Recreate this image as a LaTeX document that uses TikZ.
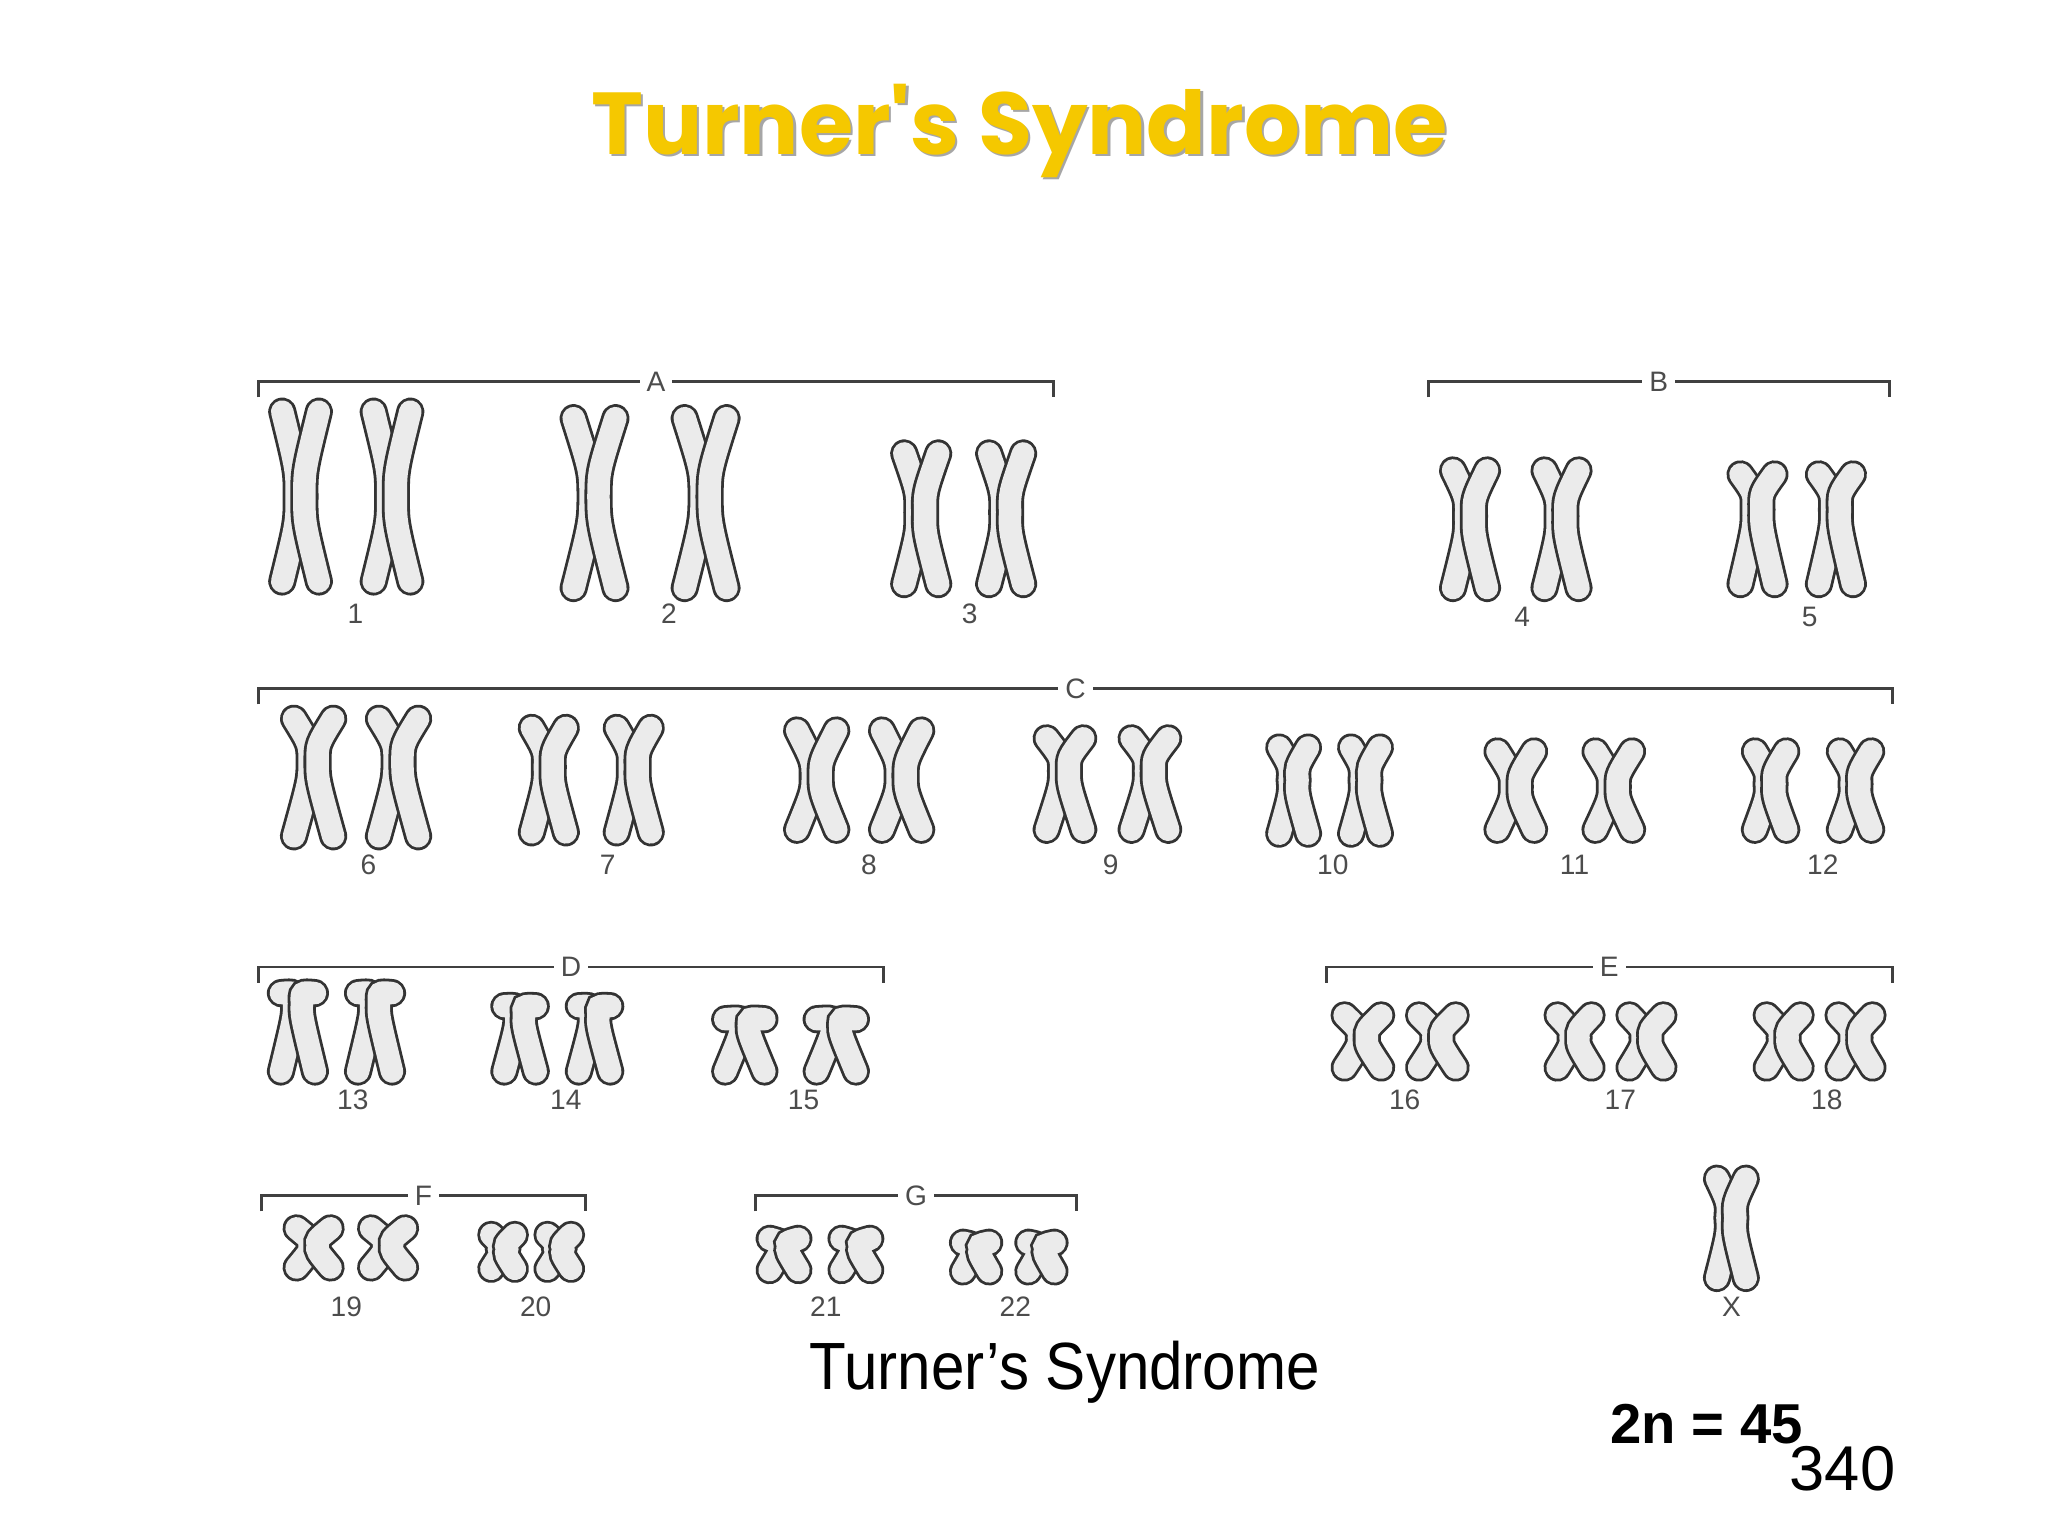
\documentclass[tikz,border=0pt]{standalone}
\usepackage{fontspec}
\setmainfont{Liberation Sans}
\newfontfamily\titlefont{Poppins}
\begin{document}
\begin{tikzpicture}[x=0.013067cm,y=-0.013067cm,
 chout/.style={line width=8pt,black!80,line cap=round},
 chin/.style={line width=6.4pt,black!8,line cap=round},
 brk/.style={black!75,line width=0.8pt},
 blab/.style={fill=white,inner sep=2pt,font=\fontsize{8}{9}\selectfont,text=black!70},
 num/.style={font=\fontsize{8}{9}\selectfont,text=black!70}]
\useasboundingbox (0,0) rectangle (1567.3,1175.5);
\newcommand\chrom[5]{% x y halfheight centromere-offset spread
 \foreach \s in {-1,1}{
  \draw[chout] (#1+\s*#5,#2-#3) .. controls (#1+\s*#5*0.2,#2+#4-#3*0.3) .. (#1+\s*3,#2+#4) .. controls (#1+\s*#5*0.2,#2+#4+#3*0.3) .. (#1+\s*#5,#2+#3);
  \draw[chin] (#1+\s*#5,#2-#3) .. controls (#1+\s*#5*0.2,#2+#4-#3*0.3) .. (#1+\s*3,#2+#4) .. controls (#1+\s*#5*0.2,#2+#4+#3*0.3) .. (#1+\s*#5,#2+#3);
 }}
\newcommand\pair[6]{% x1 x2 y h c w
 \chrom{#1}{#3}{#4}{#5}{#6}\chrom{#2}{#3}{#4}{#5}{#6}}
% title
\node[text=black!35,font=\titlefont\bfseries\fontsize{25}{30}\selectfont] at (782,102) {Turner's Syndrome};
\node (title) [text={rgb,255:red,245;green,200;blue,0},font=\titlefont\bfseries\fontsize{25}{30}\selectfont] at (780,100) {Turner's Syndrome};
% brackets
\foreach \n/\a/\b/\y/\t in {bA/198/806/292/A, bB/1093/1446/292/B, bC/198/1448/527/C, bD/198/676/740/D, bE/1015/1448/740/E, bF/200/448/915/F, bG/578/824/915/G}{
 \draw[brk] (\a,\y+12) -- (\a,\y) -- (\b,\y) node[midway,blab] (\n) {\t} -- (\b,\y+12);
}
% chromosomes
\pair{230}{300}{380}{65}{0}{14}
\pair{455}{540}{385}{65}{-5}{16}
\pair{705}{770}{397}{50}{-5}{13}
\pair{1125}{1195}{405}{45}{-10}{13}
\pair{1345}{1405}{405}{42}{-15}{13}
\pair{240}{305}{595}{45}{-12}{15}
\pair{420}{485}{597}{40}{-10}{13}
\pair{625}{690}{597}{38}{-3}{15}
\pair{815}{880}{600}{35}{-10}{14}
\pair{990}{1045}{605}{33}{-8}{11}
\pair{1160}{1235}{605}{30}{-3}{14}
\pair{1355}{1420}{605}{30}{-5}{12}
\pair{228}{287}{790}{30}{-22}{13}
\pair{398}{455}{795}{25}{-18}{12}
\pair{570}{640}{800}{20}{-15}{15}
\pair{1043}{1100}{797}{20}{-3}{14}
\pair{1205}{1260}{797}{20}{-3}{13}
\pair{1365}{1420}{797}{20}{-3}{13}
\pair{240}{297}{955}{15}{-2}{13}
\pair{385}{428}{958}{13}{-2}{9}
\pair{600}{655}{960}{12}{-6}{11}
\pair{747}{797}{962}{11}{-6}{10}
\chrom{1325}{940}{38}{-8}{11}
% numbers
\foreach \i/\x/\y in {1/272/470,2/512/470,3/742/470,4/1165/472,5/1385/472,6/282/662,7/465/662,8/665/662,9/850/662,10/1020/662,11/1205/662,12/1395/662,13/270/842,14/433/842,15/615/842,16/1075/842,17/1240/842,18/1398/842,19/265/1000,20/410/1000,21/632/1000,22/777/1000,X/1325/1000}
 \node[num] (n\i) at (\x,\y) {\i};
\node (cap) [font=\fontsize{19}{22}\selectfont,xscale=0.9] at (815,1050) {Turner's Syndrome};
\node (chr) [font=\bfseries\fontsize{16}{19}\selectfont] at (1306,1090) {2n = 45};
\node (pg) [font=\fontsize{18}{21}\selectfont] at (1410,1124) {340};
\end{tikzpicture}
\end{document}
